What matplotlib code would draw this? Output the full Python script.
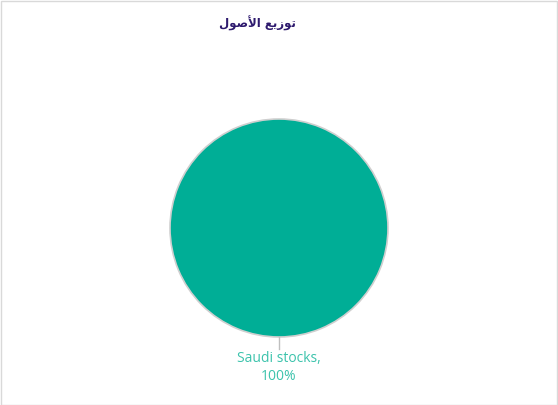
import numpy as np
import matplotlib.pyplot as plt
from matplotlib.patches import Rectangle

# data
categories = ["Saudi stocks"]
values = [100]
colors = ["#00AE96"]

# Arabic title, shaped + visual order (matplotlib has no bidi/shaping)
title = "\uFEDD\uFEEE\uFEBB\uFEF7\uFE8D \uFECA\uFEF3\uFEAF\uFEEE\uFE97"  # توزيع الأصول

W, H = 558, 406
fig = plt.figure(figsize=(W / 100, H / 100), dpi=100)
fig.patch.set_facecolor("white")
fig.patches.append(Rectangle((0.5 / W, 0.5 / H), 1 - 2 / W, 1 - 2 / H, transform=fig.transFigure,
                             fill=False, edgecolor="#D9D9D9", linewidth=1))

cx, cy, r = 279, 229, 109
ax = fig.add_axes([(cx - r) / W, (H - cy - r) / H, 2 * r / W, 2 * r / H])

wedges, _ = ax.pie(values, colors=colors, startangle=90, radius=1,
                   wedgeprops=dict(edgecolor="#CFCFCF", linewidth=1.2))
ax.set_xlim(-1, 1)
ax.set_ylim(-1, 1)
ax.axis("off")

total = sum(values)
for w, cat, v in zip(wedges, categories, values):
    ang = np.deg2rad((w.theta1 + w.theta2) / 2)
    x0, y0 = np.cos(ang), np.sin(ang)
    ax.plot([x0 * 1.0, x0 * 1.11], [y0 * 1.0, y0 * 1.11], color="#BFBFBF", lw=1, clip_on=False)
    ax.text(x0 * 1.12, y0 * 1.12, f"{cat},\n{v / total * 100:.0f}%", ha="center", va="top",
            fontsize=10, color="#3CC3AC", family="Open Sans", linespacing=1.3, clip_on=False)

fig.text(257 / W, 1 - 23 / H, title, ha="center", va="center", fontsize=8.5,
         fontweight="bold", color="#2E1A6E", family="DejaVu Sans")

fig.savefig("out.png", dpi=100)
